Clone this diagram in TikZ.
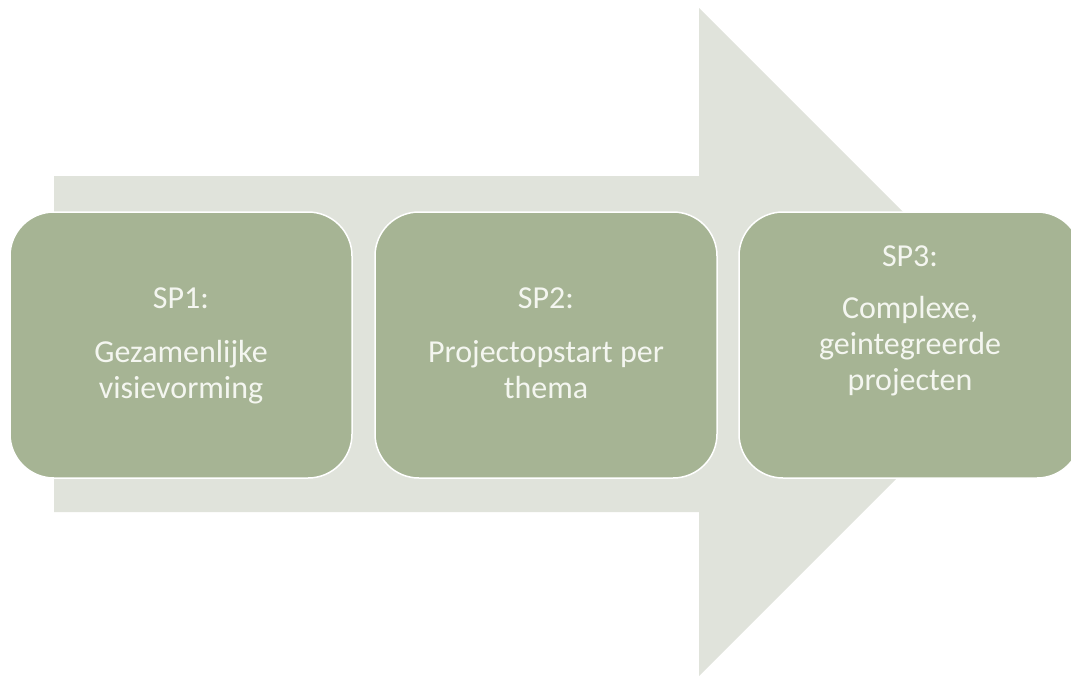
\documentclass[tikz,border=0pt]{standalone}
\usepackage{fontspec}
\setmainfont{Carlito}
\definecolor{arrowfill}{RGB}{224,227,219}
\definecolor{boxfill}{RGB}{166,180,148}
\definecolor{labeltext}{RGB}{244,246,240}
\begin{document}
\begin{tikzpicture}[x=1pt,y=-1pt,
  stepbox/.style={draw=white, line width=1.5pt, fill=boxfill, rounded corners=44pt,
    minimum width=342pt, minimum height=266pt, inner sep=0pt},
  steptext/.style={text=labeltext, align=center, inner sep=0pt, anchor=base,
    font=\fontsize{32}{36}\selectfont}]
\useasboundingbox (0,0) rectangle (1071,675);
% broad background arrow
\fill[arrowfill] (54,176) -- (699,176) -- (699,8) -- (1033,342) -- (699,676)
  -- (699,512) -- (54,512) -- cycle;
% three phase boxes
\node[stepbox] (b1) at (181,345) {};
\node[stepbox] (b2) at (546,345) {};
\node[stepbox] (b3) at (910,345) {};
% box labels (base anchor sits on the last line)
\node[steptext] (t1) at (181,398) {SP1:\\[18pt]Gezamenlijke\\visievorming};
\node[steptext] (t2) at (546,398) {SP2:\\[18pt]Projectopstart per\\thema};
\node[steptext] (t3) at (910,390) {SP3:\\[16pt]Complexe,\\geintegreerde\\projecten};
\end{tikzpicture}
\end{document}
